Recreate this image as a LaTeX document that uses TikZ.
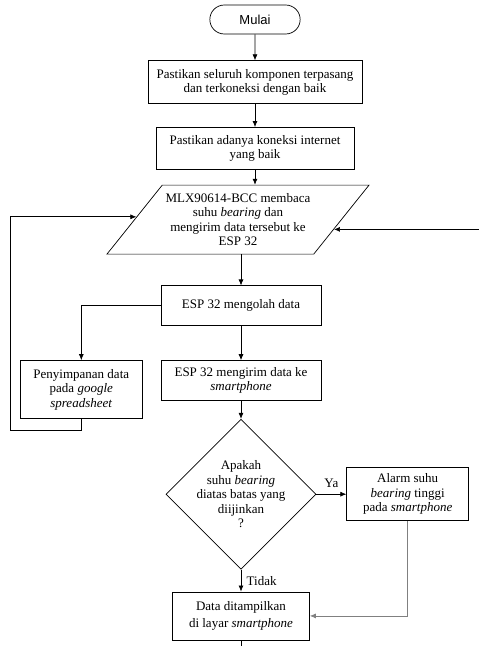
\documentclass[tikz,border=0pt]{standalone}
\usepackage{fontspec}
\setmainfont{Liberation Serif}
\newfontfamily\arialfont{Liberation Sans}
\usetikzlibrary{positioning, shapes.geometric, shapes.misc, arrows.meta, calc}
\tikzset{%
  block/.style    = {draw, rectangle, align=center, inner sep=2pt},
  term/.style     = {draw, rounded rectangle,
    font=\arialfont\fontsize{13}{14.5}\selectfont,
    minimum width=97pt, minimum height=29pt},
  io/.style       = {draw, trapezium, trapezium left angle=47,
    trapezium right angle=133, trapezium stretches=true, align=center,
    minimum width=261pt, minimum height=69pt},
  decision/.style = {draw, diamond, aspect=1, align=center, inner sep=-3pt,
    minimum width=150pt, minimum height=150pt}
}
\tikzstyle{arrow} = [draw, -{Latex[length=6pt,width=5pt]}]

\begin{document}
\begin{tikzpicture}[x=1pt, y=-1pt, line width=0.7pt,
                    font=\fontsize{13}{14.5}\selectfont]

\useasboundingbox (0,0) rectangle (479,646);

\node [term] (mulai) at (255,19.5) {Mulai};
\node [block, below=26pt of mulai, minimum width=214pt, minimum height=43pt] (pasang)
  {Pastikan seluruh komponen terpasang\\dan terkoneksi dengan baik};
\node [block, below=23pt of pasang, minimum width=198pt, minimum height=42pt] (koneksi)
  {Pastikan adanya koneksi internet\\yang baik};
\node [io, below=15pt of koneksi, xshift=-17pt] (baca)
  {MLX90614-BCC membaca\\suhu \textit{bearing} dan\\mengirim data tersebut ke\\ESP 32};
\node [block, below=31pt of baca, xshift=3pt, minimum width=160pt, minimum height=40pt] (olah)
  {ESP 32 mengolah data};
\node [block, below=34pt of olah, minimum width=160pt, minimum height=40pt] (kirim)
  {ESP 32 mengirim data ke\\\textit{smartphone}};
\node [block, anchor=north east, minimum width=122pt, minimum height=58pt] (simpan)
  at ([xshift=-18pt]kirim.north west)
  {Penyimpanan data\\pada \textit{google}\\\textit{spreadsheet}};
\node [decision, below=18pt of kirim] (cek)
  {Apakah\\suhu \textit{bearing}\\diatas batas yang\\diijinkan\\?};
\node [block, right=30pt of cek, minimum width=122pt, minimum height=53pt] (alarm)
  {Alarm suhu\\\textit{bearing} tinggi\\pada \textit{smartphone}};
\node [block, below=22pt of cek, minimum width=137pt, minimum height=48pt] (tampil)
  {Data ditampilkan\\[3pt]di layar \textit{smartphone}};

\coordinate (lin) at ($(baca.bottom left corner)!0.54!(baca.top left corner)$);
\coordinate (rin) at ($(baca.bottom right corner)!0.36!(baca.top right corner)$);
\coordinate (balik) at (10,430);
\coordinate (tepi) at (479,646);

\draw [arrow] (mulai) -- (pasang);
\draw [arrow] (pasang) -- (koneksi);
\draw [arrow] (koneksi.south) -- (koneksi.south |- baca.north);
\draw [arrow] (olah.north |- baca.south) -- (olah.north);
\draw [arrow] (olah.west) -| (simpan.north);
\draw [arrow] (olah) -- (kirim);
\draw [arrow] (simpan.south) |- (balik) |- (lin);
\draw [arrow] (rin -| tepi) -- (rin);
\draw [arrow] (kirim) -- (cek);
\draw [arrow] (cek) -- node [above, yshift=3pt] {Ya} (alarm);
\draw [arrow] (cek) -- node [right, xshift=2pt] {Tidak} (tampil);
\draw [arrow, gray] (alarm.south) |- (tampil.east);
\draw (tampil.south) -- (tampil.south |- tepi);

\end{tikzpicture}
\end{document}
